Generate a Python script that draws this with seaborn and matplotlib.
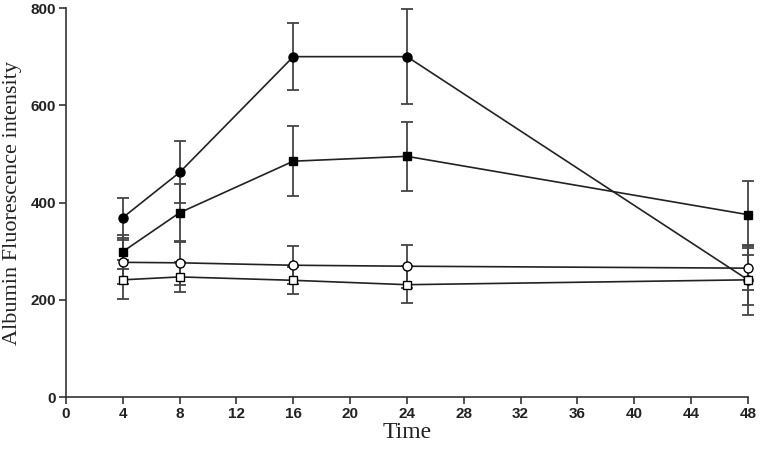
import numpy as np
import pandas as pd
import matplotlib
matplotlib.use('Agg')
import matplotlib.pyplot as plt
import seaborn as sns

time = [4, 8, 16, 24, 48]

filled_circle = [369, 462, 700, 700, 241]
filled_circle_err = [41, 64, 69, 98, 72]

filled_square = [299, 379, 485, 495, 375]
filled_square_err = [35, 60, 72, 71, 69]

open_circle = [277, 276, 271, 269, 265]
open_circle_err = [45, 45, 39, 44, 45]

open_square = [241, 247, 240, 231, 241]
open_square_err = [40, 30, 28, 38, 51]

series = [
    ('filled circle', filled_circle, filled_circle_err, 'o', 'black'),
    ('filled square', filled_square, filled_square_err, 's', 'black'),
    ('open circle', open_circle, open_circle_err, 'o', 'white'),
    ('open square', open_square, open_square_err, 's', 'white'),
]

sns.set_style('ticks')
fig = plt.figure(figsize=(7.6, 4.51), dpi=100)
ax = fig.add_axes([0.0868, 0.1197, 0.8974, 0.8625])

line_col = '#222222'
for name, vals, errs, mk, face in series:
    df = pd.DataFrame({'Time': time, 'Value': vals})
    eb = ax.errorbar(time, vals, yerr=errs, fmt='none', ecolor='#444444',
                     elinewidth=1.3, capsize=4, capthick=1.3, zorder=2)
    for art in eb.lines[1] + eb.lines[2]:
        art.set_clip_on(False)
    sns.lineplot(data=df, x='Time', y='Value', ax=ax, color=line_col,
                 linewidth=1.2, marker=mk, markersize=6.5 if mk == 'o' else 6,
                 markerfacecolor=face, markeredgecolor='black',
                 markeredgewidth=1.0, zorder=3, clip_on=False)

ax.set_xlim(0, 48)
ax.set_ylim(0, 800)
ax.set_xticks(range(0, 49, 4))
ax.set_yticks(range(0, 801, 200))
ax.tick_params(axis='both', direction='out', length=5, width=1.2,
               color='#333333', labelsize=11, pad=2)
for lab in ax.get_xticklabels() + ax.get_yticklabels():
    lab.set_fontfamily('Liberation Sans')
    lab.set_fontweight('bold')
    lab.set_color('#222222')

ax.set_xlabel('Time', fontfamily='Liberation Serif', fontsize=17,
              color='#222222', labelpad=1)
ax.set_ylabel('Albumin Fluorescence intensity', fontfamily='Liberation Serif',
              fontsize=16, color='#222222', labelpad=6)

for sp in ['left', 'bottom']:
    ax.spines[sp].set_linewidth(1.2)
    ax.spines[sp].set_color('#333333')
sns.despine(ax=ax)

fig.savefig('out.png', dpi=100)
